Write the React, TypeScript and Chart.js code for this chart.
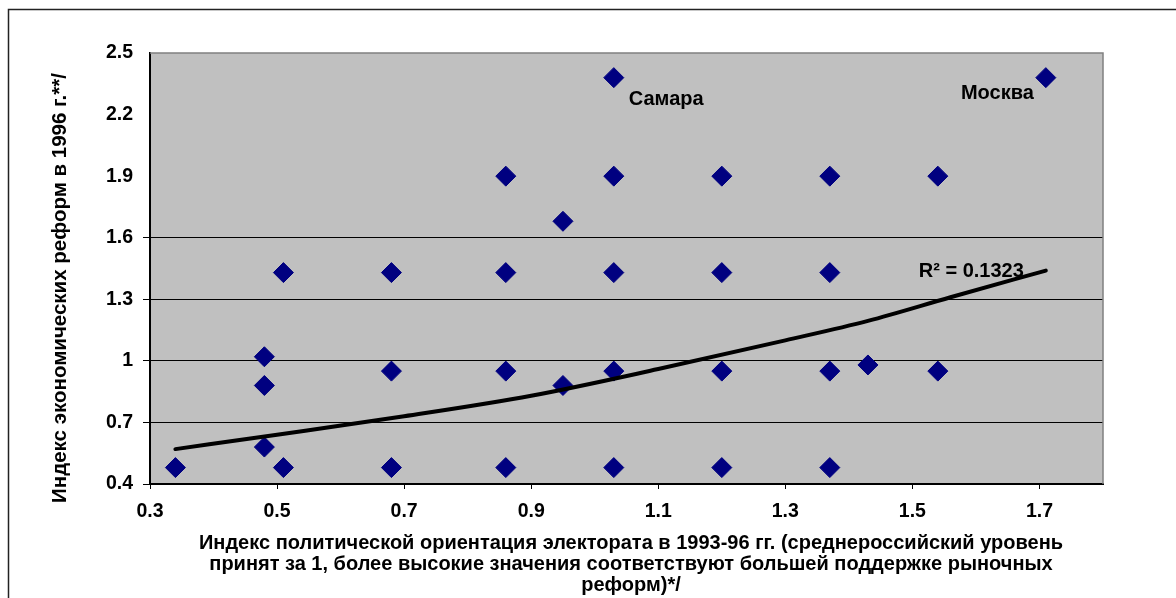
import React, { useEffect, useRef } from "react";
import { Chart, registerables } from "chart.js";

Chart.register(...registerables);

// Regions: political orientation index (x) vs economic reform index (y)
const regionX = [
  0.34, 0.48, 0.48, 0.48, 0.51, 0.51, 0.68, 0.68, 0.68, 0.86, 0.86, 0.86, 0.86,
  0.95, 0.95, 1.03, 1.03, 1.03, 1.03, 1.03, 1.2, 1.2, 1.2, 1.2, 1.37, 1.37, 1.37,
  1.37, 1.43, 1.54, 1.54, 1.71,
];
const regionY = [
  0.48, 1.02, 0.88, 0.58, 0.48, 1.43, 1.43, 0.95, 0.48, 1.9, 1.43, 0.95, 0.48,
  1.68, 0.88, 2.38, 1.9, 1.43, 0.95, 0.48, 1.9, 1.43, 0.95, 0.48, 1.9, 1.43, 0.95,
  0.48, 0.98, 1.9, 0.95, 2.38,
];

// Trend line
const trendX = [0.34, 0.5, 0.7, 0.9, 1.1, 1.3, 1.43, 1.56, 1.71];
const trendY = [0.57, 0.64, 0.73, 0.83, 0.96, 1.1, 1.195, 1.31, 1.44];

const xTicks = [0.3, 0.5, 0.7, 0.9, 1.1, 1.3, 1.5, 1.7];
const yTicks = [0.4, 0.7, 1, 1.3, 1.6, 1.9, 2.2, 2.5];
const yGridTicks = [0.4, 0.7, 1, 1.3, 1.6];

const xTitleLines = [
  "Индекс политической ориентация электората в 1993-96 гг. (среднероссийский уровень",
  "принят за 1, более высокие значения соответствуют большей поддержке рыночных",
  "реформ)*/",
];
const yTitle = "Индекс экономических реформ в 1996 г.**/";
const r2Label = "R² = 0.1323";
const samaraLabel = "Самара";
const moscowLabel = "Москва";

const FONT = '"Liberation Sans", Arial, sans-serif';

const decorPlugin = {
  id: "decor",
  beforeDraw(chart: any) {
    const { ctx, chartArea } = chart;
    ctx.save();
    ctx.fillStyle = "#ffffff";
    ctx.fillRect(0, 0, chart.width, chart.height);
    // outer frame
    ctx.strokeStyle = "#222";
    ctx.lineWidth = 1.5;
    ctx.beginPath();
    ctx.moveTo(8.5, chart.height);
    ctx.lineTo(8.5, 9.5);
    ctx.lineTo(chart.width, 9.5);
    ctx.stroke();
    // plot background
    ctx.fillStyle = "#c0c0c0";
    ctx.fillRect(
      chartArea.left,
      chartArea.top,
      chartArea.right - chartArea.left,
      chartArea.bottom - chartArea.top
    );
    ctx.restore();
  },
  afterDraw(chart: any) {
    const { ctx, chartArea, scales } = chart;
    const x = scales.x;
    const y = scales.y;
    ctx.save();
    // top & right plot border
    ctx.strokeStyle = "#808080";
    ctx.lineWidth = 1.5;
    ctx.beginPath();
    ctx.moveTo(chartArea.left, chartArea.top);
    ctx.lineTo(chartArea.right, chartArea.top);
    ctx.lineTo(chartArea.right, chartArea.bottom);
    ctx.stroke();

    ctx.fillStyle = "#000";
    ctx.font = `bold 20px ${FONT}`;
    ctx.textBaseline = "middle";
    // point labels
    ctx.textAlign = "left";
    ctx.fillText(samaraLabel, x.getPixelForValue(1.03) + 15, y.getPixelForValue(2.38) + 22);
    ctx.textAlign = "right";
    ctx.fillText(moscowLabel, x.getPixelForValue(1.71) - 12, y.getPixelForValue(2.38) + 16);
    ctx.textAlign = "left";
    ctx.fillText(r2Label, x.getPixelForValue(1.51), y.getPixelForValue(1.434));

    // axis titles
    ctx.font = `bold 20px ${FONT}`;
    ctx.textAlign = "center";
    const cx = 631;
    xTitleLines.forEach((line, i) => {
      ctx.fillText(line, cx, 543 + i * 21);
    });
    ctx.save();
    ctx.font = `bold 20.5px ${FONT}`;
    ctx.translate(60, 288);
    ctx.rotate(-Math.PI / 2);
    ctx.fillText(yTitle, 0, 0);
    ctx.restore();
    ctx.restore();
  },
};

export default function App() {
  const ref = useRef<HTMLCanvasElement | null>(null);

  useEffect(() => {
    if (!ref.current) return;
    const chart = new Chart(ref.current, {
      type: "scatter",
      data: {
        datasets: [
          {
            type: "line",
            label: "trend",
            data: trendX.map((x, i) => ({ x, y: trendY[i] })),
            borderColor: "#000",
            borderWidth: 4,
            pointRadius: 0,
            fill: false,
            cubicInterpolationMode: "monotone",
            borderCapStyle: "round",
            order: 0,
          } as any,
          {
            type: "scatter",
            label: "regions",
            data: regionX.map((x, i) => ({ x, y: regionY[i] })),
            pointStyle: "rectRot",
            pointRadius: 10,
            pointHoverRadius: 10,
            backgroundColor: "#000080",
            borderColor: "#000080",
            borderWidth: 1,
            order: 1,
          } as any,
        ],
      },
      options: {
        responsive: false,
        animation: false,
        devicePixelRatio: 1,
        layout: { padding: { left: 0, top: 53, right: 73, bottom: 0 } },
        plugins: {
          legend: { display: false },
          tooltip: { enabled: false },
        },
        scales: {
          x: {
            type: "linear",
            min: 0.3,
            max: 1.8,
            afterBuildTicks: (scale: any) => {
              scale.ticks = xTicks.map((v) => ({ value: v }));
            },
            afterFit: (scale: any) => {
              scale.height = 114;
            },
            grid: {
              drawOnChartArea: false,
              drawTicks: true,
              tickLength: 5,
              color: "#000",
              lineWidth: 1,
            },
            border: { display: true, color: "#000", width: 2 },
            ticks: {
              padding: 11,
              color: "#000",
              font: { family: FONT, size: 19.5, weight: "bold" },
              maxRotation: 0,
              callback: (v: any) => String(Number(Number(v).toFixed(2))),
            },
          },
          y: {
            type: "linear",
            min: 0.4,
            max: 2.5,
            afterBuildTicks: (scale: any) => {
              scale.ticks = yTicks.map((v) => ({ value: v }));
            },
            afterFit: (scale: any) => {
              scale.width = 150;
            },
            grid: {
              drawOnChartArea: true,
              drawTicks: true,
              tickLength: 7,
              lineWidth: 1,
              color: (c: any) =>
                c.tick && yGridTicks.some((t) => Math.abs(t - c.tick.value) < 1e-6)
                  ? "#000"
                  : "rgba(0,0,0,0)",
            },
            border: { display: true, color: "#000", width: 2 },
            ticks: {
              padding: 10,
              color: "#000",
              font: { family: FONT, size: 19.5, weight: "bold" },
              callback: (v: any) => String(Number(Number(v).toFixed(2))),
            },
          },
        },
      },
      plugins: [decorPlugin],
    } as any);
    return () => chart.destroy();
  }, []);

  return (
    <div
      style={{
        position: "fixed",
        left: 0,
        top: 0,
        width: 1176,
        height: 598,
        background: "#fff",
        overflow: "hidden",
      }}
    >
      <canvas ref={ref} width={1176} height={598} style={{ display: "block" }} />
    </div>
  );
}
